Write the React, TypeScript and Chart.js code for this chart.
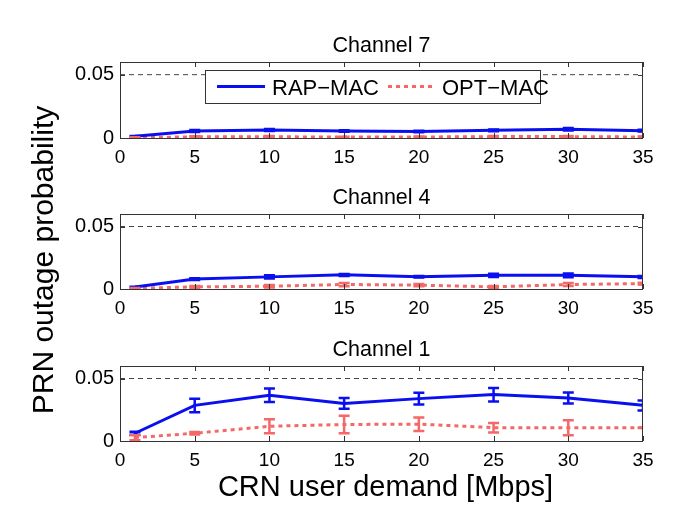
import React, { useEffect, useRef } from 'react';
import { Chart, registerables } from 'chart.js';

Chart.register(...registerables);

// ---------- data ----------
const demand = [1, 5, 10, 15, 20, 25, 30, 35];
const xTicks = [0, 5, 10, 15, 20, 25, 30, 35];
const yTicks = [0, 0.05];
const threshold = 0.05;
const seriesNames = ['RAP−MAC', 'OPT−MAC'];
const panelTitles = ['Channel 7', 'Channel 4', 'Channel 1'];

const ch7Rap = [0.0013, 0.0056, 0.0064, 0.0056, 0.0051, 0.0061, 0.0069, 0.0058];
const ch7RapErr = [0.0003, 0.0008, 0.0008, 0.0006, 0.0006, 0.0007, 0.001, 0.0007];
const ch7Opt = [0.0003, 0.0009, 0.001, 0.0007, 0.0008, 0.0011, 0.0011, 0.0008];
const ch7OptErr = [0.0002, 0.0004, 0.0005, 0.0003, 0.0004, 0.0005, 0.0005, 0.0003];

const ch4Rap = [0.0016, 0.008, 0.0097, 0.0113, 0.0099, 0.011, 0.011, 0.0097];
const ch4RapErr = [0.0003, 0.0007, 0.0013, 0.0008, 0.0006, 0.0013, 0.0015, 0.0008];
const ch4Opt = [0.0005, 0.0017, 0.0022, 0.0036, 0.0031, 0.0017, 0.0036, 0.0043];
const ch4OptErr = [0.0003, 0.0007, 0.001, 0.0013, 0.0009, 0.0007, 0.0012, 0.0007];

const ch1Rap = [0.0062, 0.0285, 0.0366, 0.0301, 0.0339, 0.0371, 0.0344, 0.0285];
const ch1RapErr = [0.0012, 0.0054, 0.0054, 0.0043, 0.0047, 0.0054, 0.0044, 0.004];
const ch1Opt = [0.0027, 0.0062, 0.0118, 0.0132, 0.0135, 0.0107, 0.0107, 0.0107];
const ch1OptErr = [0.002, 0.001, 0.0056, 0.007, 0.0054, 0.0038, 0.006, 0.0];

const xTitle = 'CRN user demand [Mbps]';
const yTitle = 'PRN outage probability';

// ---------- layout / style ----------
const W = 685;
const H = 518;
const FONT = '"Liberation Sans", Arial, Helvetica, sans-serif';
const BLUE = '#0a0ff0';
const RED = '#f46868';
const areas = [
  { top: 62, bottom: 138 },
  { top: 214, bottom: 289 },
  { top: 366, bottom: 441 },
];
const PLOT_LEFT = 120;
const PLOT_RIGHT = 643;
const XAXIS_H = 30;

const panelData = [
  { rap: ch7Rap, rapErr: ch7RapErr, opt: ch7Opt, optErr: ch7OptErr },
  { rap: ch4Rap, rapErr: ch4RapErr, opt: ch4Opt, optErr: ch4OptErr },
  { rap: ch1Rap, rapErr: ch1RapErr, opt: ch1Opt, optErr: ch1OptErr },
];

function makePlugin(index: number) {
  return {
    id: 'matlabFrame' + index,
    beforeDatasetsDraw(chart: any) {
      const { ctx, chartArea: ca, scales } = chart;
      const y = scales.y.getPixelForValue(threshold);
      ctx.save();
      ctx.strokeStyle = '#444';
      ctx.lineWidth = 1;
      ctx.setLineDash([5, 4]);
      ctx.beginPath();
      ctx.moveTo(ca.left, y);
      ctx.lineTo(ca.right, y);
      ctx.stroke();
      ctx.restore();
    },
    afterDatasetsDraw(chart: any) {
      const { ctx, chartArea: ca, scales } = chart;
      const xs = scales.x;
      const ys = scales.y;
      // error bars
      ctx.save();
      ctx.beginPath();
      ctx.rect(ca.left, ca.top - 2, ca.right - ca.left, ca.bottom - ca.top + 4);
      ctx.clip();
      chart.data.datasets.forEach((ds: any) => {
        ctx.strokeStyle = ds.borderColor;
        ctx.lineWidth = 2.5;
        ctx.setLineDash([]);
        ds.data.forEach((p: any, j: number) => {
          const e = ds.errors[j];
          const px = xs.getPixelForValue(p.x);
          const y1 = ys.getPixelForValue(p.y + e);
          const y2 = ys.getPixelForValue(Math.max(0, p.y - e));
          const hw = 5.5;
          ctx.beginPath();
          ctx.moveTo(px, y1);
          ctx.lineTo(px, y2);
          ctx.moveTo(px - hw, y1);
          ctx.lineTo(px + hw, y1);
          ctx.moveTo(px - hw, y2);
          ctx.lineTo(px + hw, y2);
          ctx.stroke();
        });
      });
      ctx.restore();

      // frame + inward ticks
      ctx.save();
      ctx.strokeStyle = '#333';
      ctx.lineWidth = 1;
      ctx.setLineDash([]);
      ctx.strokeRect(ca.left + 0.5, ca.top + 0.5, ca.right - ca.left - 1, ca.bottom - ca.top);
      ctx.beginPath();
      xs.ticks.forEach((t: any) => {
        const px = Math.round(xs.getPixelForValue(t.value)) + 0.5;
        ctx.moveTo(px, ca.bottom);
        ctx.lineTo(px, ca.bottom - 5);
        ctx.moveTo(px, ca.top);
        ctx.lineTo(px, ca.top + 5);
      });
      ys.ticks.forEach((t: any) => {
        const py = Math.round(ys.getPixelForValue(t.value)) + 0.5;
        ctx.moveTo(ca.left, py);
        ctx.lineTo(ca.left + 5, py);
        ctx.moveTo(ca.right, py);
        ctx.lineTo(ca.right - 5, py);
      });
      ctx.stroke();
      ctx.restore();

      // panel title
      ctx.save();
      ctx.fillStyle = '#000';
      ctx.font = `21.5px ${FONT}`;
      ctx.textAlign = 'center';
      ctx.textBaseline = 'alphabetic';
      ctx.fillText(panelTitles[index], (ca.left + ca.right) / 2, ca.top - 10);
      ctx.restore();

      if (index === 0) {
        // legend box
        const lx = ca.left + 85;
        const ly = ca.top + 8;
        const lw = 335;
        const lh = 33;
        const cy = ly + lh / 2;
        ctx.save();
        ctx.fillStyle = '#fff';
        ctx.fillRect(lx, ly, lw, lh);
        ctx.strokeStyle = '#333';
        ctx.lineWidth = 1;
        ctx.strokeRect(lx + 0.5, ly + 0.5, lw, lh);
        ctx.lineWidth = 3;
        ctx.strokeStyle = BLUE;
        ctx.beginPath();
        ctx.moveTo(lx + 12, cy);
        ctx.lineTo(lx + 60, cy);
        ctx.stroke();
        ctx.strokeStyle = RED;
        ctx.setLineDash([4, 4]);
        ctx.beginPath();
        ctx.moveTo(lx + 183, cy);
        ctx.lineTo(lx + 229, cy);
        ctx.stroke();
        ctx.setLineDash([]);
        ctx.fillStyle = '#000';
        ctx.font = `22px ${FONT}`;
        ctx.textAlign = 'left';
        ctx.textBaseline = 'alphabetic';
        ctx.fillText(seriesNames[0], lx + 67, cy + 8);
        ctx.fillText(seriesNames[1], lx + 237, cy + 8);
        ctx.restore();
      }
      if (index === 1) {
        ctx.save();
        ctx.fillStyle = '#000';
        ctx.font = `30px ${FONT}`;
        ctx.textAlign = 'center';
        ctx.textBaseline = 'alphabetic';
        ctx.translate(53, 260);
        ctx.rotate(-Math.PI / 2);
        ctx.fillText(yTitle, 0, 0);
        ctx.restore();
      }
      if (index === 2) {
        ctx.save();
        ctx.fillStyle = '#000';
        ctx.font = `29px ${FONT}`;
        ctx.textAlign = 'center';
        ctx.textBaseline = 'alphabetic';
        ctx.fillText(xTitle, (ca.left + ca.right) / 2 + 4, 496);
        ctx.restore();
      }
    },
  };
}

function buildChart(canvas: HTMLCanvasElement, index: number) {
  const d = panelData[index];
  const area = areas[index];
  return new Chart(canvas, {
    type: 'line',
    data: {
      datasets: [
        {
          label: seriesNames[0],
          data: demand.map((x, i) => ({ x, y: d.rap[i] })),
          borderColor: BLUE,
          backgroundColor: BLUE,
          borderWidth: 3,
          pointRadius: 0,
          tension: 0,
          errors: d.rapErr,
        } as any,
        {
          label: seriesNames[1],
          data: demand.map((x, i) => ({ x, y: d.opt[i] })),
          borderColor: RED,
          backgroundColor: RED,
          borderWidth: 3,
          borderDash: [4, 4],
          pointRadius: 0,
          tension: 0,
          errors: d.optErr,
        } as any,
      ],
    },
    options: {
      responsive: false,
      animation: false,
      events: [],
      layout: {
        padding: {
          left: 0,
          right: W - PLOT_RIGHT,
          top: area.top,
          bottom: H - area.bottom - XAXIS_H,
        },
      },
      plugins: {
        legend: { display: false },
        title: { display: false },
        tooltip: { enabled: false },
      },
      scales: {
        x: {
          type: 'linear',
          min: 0,
          max: 35,
          afterBuildTicks: (s: any) => {
            s.ticks = xTicks.map((v) => ({ value: v }));
          },
          afterFit: (s: any) => {
            s.height = XAXIS_H;
          },
          grid: { display: false, drawTicks: false },
          border: { display: false },
          ticks: {
            color: '#000',
            font: { family: FONT, size: 19 },
            padding: 8,
            maxRotation: 0,
            autoSkip: false,
            callback: (v: any) => String(v),
          },
        },
        y: {
          type: 'linear',
          min: 0,
          max: 0.06,
          afterBuildTicks: (s: any) => {
            s.ticks = yTicks.map((v) => ({ value: v }));
          },
          afterFit: (s: any) => {
            s.width = PLOT_LEFT;
          },
          grid: { display: false, drawTicks: false },
          border: { display: false },
          ticks: {
            color: '#000',
            font: { family: FONT, size: 20 },
            padding: 6,
            autoSkip: false,
            callback: (v: any) => (v === 0 ? '0' : String(v)),
          },
        },
      },
    } as any,
    plugins: [makePlugin(index)],
  });
}

export default function App() {
  const r0 = useRef<HTMLCanvasElement>(null);
  const r1 = useRef<HTMLCanvasElement>(null);
  const r2 = useRef<HTMLCanvasElement>(null);

  useEffect(() => {
    const refs = [r0, r1, r2];
    const charts = refs.map((r, i) => buildChart(r.current as HTMLCanvasElement, i));
    return () => {
      charts.forEach((c) => c.destroy());
    };
  }, []);

  const cs: React.CSSProperties = { position: 'absolute', left: 0, top: 0, width: W, height: H };
  return (
    <div style={{ position: 'absolute', left: 0, top: 0, width: W, height: H, background: '#fff' }}>
      <canvas ref={r0} width={W} height={H} style={cs} />
      <canvas ref={r1} width={W} height={H} style={cs} />
      <canvas ref={r2} width={W} height={H} style={cs} />
    </div>
  );
}
